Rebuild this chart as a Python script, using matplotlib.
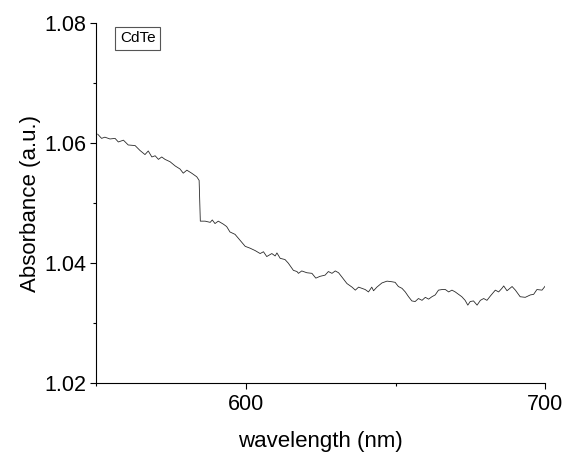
"""CdTe absorbance spectrum, 550-700 nm."""

import matplotlib

matplotlib.use("Agg")
import matplotlib.pyplot as plt
from matplotlib.ticker import MultipleLocator

plt.rcParams["font.family"] = ["Liberation Sans", "DejaVu Sans"]

SAMPLE_LABEL = "CdTe"
X_LABEL = "wavelength (nm)"
Y_LABEL = "Absorbance (a.u.)"

wavelength_nm = [
    550.4, 551.7, 552.8, 554.5, 556.2, 557.3, 559.0, 560.6, 562.9, 564.5,
    566.2, 567.3, 568.5, 569.6, 570.7, 571.8, 572.9, 574.6, 576.3, 577.9,
    579.0, 580.2, 581.8, 583.5, 584.3, 584.7, 586.3, 588.0, 588.7, 589.6,
    590.7, 592.4, 593.5, 594.6, 596.3, 599.7, 601.3, 603.0, 604.7, 605.8,
    606.9, 608.6, 609.7, 610.3, 611.4, 613.0, 614.1, 615.8, 617.0, 617.5,
    618.6, 620.3, 622.0, 623.3, 624.7, 626.4, 627.5, 628.7, 629.8, 630.9,
    632.0, 633.7, 635.4, 636.5, 637.6, 638.7, 639.8, 640.9, 642.0, 642.6,
    643.7, 645.4, 647.1, 648.7, 649.8, 650.9, 652.1, 653.2, 654.3, 655.4,
    656.5, 657.6, 658.8, 659.9, 661.0, 662.1, 663.2, 664.3, 665.5, 666.6,
    667.7, 668.8, 669.9, 671.0, 672.1, 673.2, 674.1, 674.9, 676.0, 677.2,
    678.3, 679.4, 680.5, 681.6, 683.3, 684.4, 685.5, 686.1, 687.2, 688.9,
    690.0, 691.6, 693.3, 695.0, 696.1, 697.2, 698.9, 700.0,
]

absorbance = [
    1.0615, 1.0608, 1.0610, 1.0607, 1.0608, 1.0602, 1.0605, 1.0597, 1.0596, 1.0588,
    1.0581, 1.0587, 1.0577, 1.0579, 1.0573, 1.0577, 1.0573, 1.0569, 1.0562, 1.0557,
    1.0550, 1.0555, 1.0550, 1.0544, 1.0538, 1.0470, 1.0470, 1.0468, 1.0472, 1.0466,
    1.0470, 1.0465, 1.0461, 1.0452, 1.0448, 1.0428, 1.0425, 1.0421, 1.0416, 1.0419,
    1.0411, 1.0416, 1.0412, 1.0417, 1.0408, 1.0406, 1.0400, 1.0388, 1.0386, 1.0383,
    1.0387, 1.0384, 1.0383, 1.0375, 1.0378, 1.0380, 1.0386, 1.0383, 1.0387, 1.0384,
    1.0377, 1.0366, 1.0360, 1.0355, 1.0360, 1.0358, 1.0356, 1.0352, 1.0360, 1.0354,
    1.0360, 1.0367, 1.0370, 1.0369, 1.0368, 1.0361, 1.0358, 1.0352, 1.0344, 1.0337,
    1.0336, 1.0341, 1.0338, 1.0343, 1.0340, 1.0344, 1.0347, 1.0355, 1.0356, 1.0356,
    1.0352, 1.0355, 1.0352, 1.0348, 1.0344, 1.0338, 1.0330, 1.0336, 1.0337, 1.0330,
    1.0338, 1.0341, 1.0338, 1.0345, 1.0355, 1.0352, 1.0358, 1.0362, 1.0354, 1.0361,
    1.0355, 1.0344, 1.0343, 1.0347, 1.0348, 1.0356, 1.0355, 1.0362,
]


def main() -> None:
    fig = plt.figure(figsize=(5.71, 4.55), dpi=100)
    ax = fig.add_axes([0.169, 0.158, 0.786, 0.791])

    ax.plot(wavelength_nm, absorbance, color="#2a2a2a", linewidth=0.6)

    ax.set_xlim(550, 700)
    ax.set_ylim(1.02, 1.08)
    ax.xaxis.set_major_locator(MultipleLocator(100))
    ax.xaxis.set_minor_locator(MultipleLocator(50))
    ax.yaxis.set_major_locator(MultipleLocator(0.02))
    ax.yaxis.set_minor_locator(MultipleLocator(0.01))
    ax.yaxis.set_major_formatter(plt.FormatStrFormatter("%.2f"))

    for side in ("top", "right"):
        ax.spines[side].set_visible(False)
    for side in ("left", "bottom"):
        ax.spines[side].set_linewidth(0.8)

    ax.tick_params(which="major", direction="out", length=4.5, width=0.8,
                   labelsize=15.5, pad=3)
    ax.tick_params(which="minor", direction="out", length=2.5, width=0.8)

    ax.set_xlabel(X_LABEL, fontsize=16, labelpad=12)
    ax.set_ylabel(Y_LABEL, fontsize=16, labelpad=2)

    ax.text(0.052, 0.978, SAMPLE_LABEL, transform=ax.transAxes, fontsize=11,
            ha="left", va="top",
            bbox=dict(boxstyle="square,pad=0.3", facecolor="white",
                      edgecolor="#555555", linewidth=0.8))

    fig.savefig("out.png", dpi=100)
    plt.close(fig)


if __name__ == "__main__":
    main()
